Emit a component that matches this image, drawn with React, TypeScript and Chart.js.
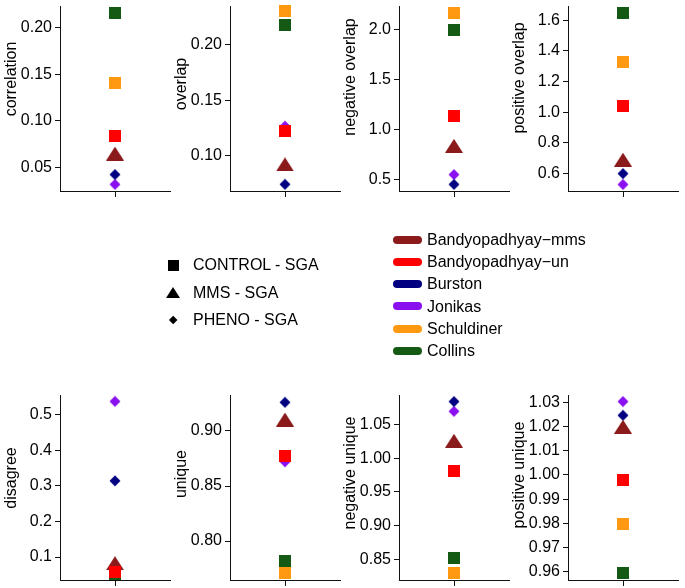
import React, { useEffect, useRef } from "react";
import { Chart, registerables } from "chart.js";

Chart.register(...registerables);

// ---------- data ----------
const sources = ["Bandyopadhyay−mms", "Bandyopadhyay−un", "Burston", "Jonikas", "Schuldiner", "Collins"];
const sourceColors = ["#8B1A1A", "#FF0000", "#000080", "#8A10F0", "#FF9912", "#145A14"];
const sourceShapes = ["triangle", "square", "diamond", "diamond", "square", "square"];
const screenTypes = ["CONTROL - SGA", "MMS - SGA", "PHENO - SGA"];
const screenShapes = ["square", "triangle", "diamond"];

const metricNames = [
  "correlation", "overlap", "negative overlap", "positive overlap",
  "disagree", "unique", "negative unique", "positive unique",
];

// values in the order of `sources`
const correlation = [0.0648, 0.0838, 0.0423, 0.0317, 0.1411, 0.2159];
const overlap = [0.092, 0.1219, 0.074, 0.1265, 0.2302, 0.2174];
const negativeOverlap = [0.836, 1.131, 0.451, 0.549, 2.164, 1.995];
const positiveOverlap = [0.691, 1.038, 0.6, 0.529, 1.325, 1.647];
const disagree = [0.083, 0.0586, 0.314, 0.537, 0.015, 0.0245];
const unique = [0.9104, 0.8777, 0.926, 0.872, 0.771, 0.7818];
const negativeUnique = [1.0258, 0.9806, 1.084, 1.0695, 0.83, 0.8525];
const positiveUnique = [1.0199, 0.9977, 1.0246, 1.0303, 0.9797, 0.9593];

const metricValues = [
  correlation, overlap, negativeOverlap, positiveOverlap,
  disagree, unique, negativeUnique, positiveUnique,
];

// axis ranges and tick labels
const yMin = [0.0246, 0.068, 0.385, 0.4866, 0.0357, 0.7646, 0.8194, 0.9566];
const yMax = [0.2233, 0.2349, 2.233, 1.692, 0.555, 0.9327, 1.0937, 1.033];
const yTicks = [
  [0.05, 0.1, 0.15, 0.2],
  [0.1, 0.15, 0.2],
  [0.5, 1.0, 1.5, 2.0],
  [0.6, 0.8, 1.0, 1.2, 1.4, 1.6],
  [0.1, 0.2, 0.3, 0.4, 0.5],
  [0.8, 0.85, 0.9],
  [0.85, 0.9, 0.95, 1.0, 1.05],
  [0.96, 0.97, 0.98, 0.99, 1.0, 1.01, 1.02, 1.03],
];
const tickDecimals = [2, 2, 1, 1, 1, 2, 2, 2];

// drawing order, top-most first
const drawOrder = [1, 4, 5, 0, 2, 3];

// ---------- layout ----------
const FONT = '"Liberation Sans", Arial, Helvetica, sans-serif';
const AXIS_COLOR = "#111";
const AXIS_X = [60, 230, 399, 568];
const ROW_TOP = [3, 392];
const PLOT_W = 114;
const PLOT_H = 188;
const LEFT_W = 60;
const PAD_TOP = 3;
const XAXIS_H = 10;
const TITLE_CY = [79, 84, 77, 78, 478, 474, 473, 475];

function makeMarker(shape: string, color: string): HTMLCanvasElement {
  const c = document.createElement("canvas");
  const ctx = c.getContext("2d")!;
  if (shape === "square") {
    c.width = 12; c.height = 12;
    ctx.fillStyle = color;
    ctx.fillRect(0, 0, 12, 12);
  } else if (shape === "triangle") {
    c.width = 18; c.height = 14;
    ctx.fillStyle = color;
    ctx.beginPath();
    ctx.moveTo(9, 0); ctx.lineTo(18, 14); ctx.lineTo(0, 14);
    ctx.closePath(); ctx.fill();
  } else {
    c.width = 12; c.height = 12;
    ctx.fillStyle = color;
    ctx.beginPath();
    ctx.moveTo(6, 0.5); ctx.lineTo(11.5, 6); ctx.lineTo(6, 11.5); ctx.lineTo(0.5, 6);
    ctx.closePath(); ctx.fill();
  }
  return c;
}

function Panel({ index }: { index: number }) {
  const ref = useRef<HTMLCanvasElement | null>(null);
  const col = index % 4;
  const row = Math.floor(index / 4);
  const left = AXIS_X[col] - LEFT_W;
  const top = ROW_TOP[row] - PAD_TOP;
  const width = LEFT_W + PLOT_W + 2;
  const height = PAD_TOP + PLOT_H + XAXIS_H;

  useEffect(() => {
    const values = metricValues[index];
    const datasets = drawOrder.map((s) => ({
      label: sources[s],
      data: [{ x: 0, y: values[s] }],
      pointStyle: makeMarker(sourceShapes[s], sourceColors[s]) as any,
      pointRadius: 6,
      backgroundColor: sourceColors[s],
      borderWidth: 0,
      clip: { left: 0, top: 6, right: 0, bottom: 0 } as any,
    }));
    const ticks = yTicks[index];
    const dec = tickDecimals[index];
    const chart = new Chart(ref.current!, {
      type: "scatter",
      data: { datasets },
      options: {
        animation: false,
        responsive: false,
        maintainAspectRatio: false,
        devicePixelRatio: 1,
        layout: { padding: { top: PAD_TOP, right: 2, left: 0, bottom: 0 } },
        plugins: { legend: { display: false }, tooltip: { enabled: false } },
        events: [],
        scales: {
          x: {
            type: "linear",
            min: -1,
            max: 1,
            afterBuildTicks: (scale: any) => { scale.ticks = [{ value: 0 }]; },
            afterFit: (scale: any) => {
              scale.height = XAXIS_H;
              scale.paddingLeft = 0; scale.paddingRight = 0;
            },
            ticks: { display: false },
            grid: { drawOnChartArea: false, drawTicks: true, tickLength: 6, color: AXIS_COLOR, lineWidth: 1 },
            border: { display: true, color: AXIS_COLOR, width: 1 },
          },
          y: {
            type: "linear",
            min: yMin[index],
            max: yMax[index],
            afterBuildTicks: (scale: any) => { scale.ticks = ticks.map((v) => ({ value: v })); },
            afterFit: (scale: any) => {
              scale.width = LEFT_W;
              scale.paddingTop = 0; scale.paddingBottom = 0;
            },
            ticks: {
              autoSkip: false,
              padding: 3,
              color: "#000",
              font: { family: FONT, size: 16 },
              callback: (v: any) => Number(v).toFixed(dec),
            },
            grid: { drawOnChartArea: false, drawTicks: true, tickLength: 5, color: AXIS_COLOR, lineWidth: 1 },
            border: { display: true, color: AXIS_COLOR, width: 1 },
          },
        },
      },
    });
    return () => chart.destroy();
  }, [index]);

  return (
    <canvas
      ref={ref}
      width={width}
      height={height}
      style={{ position: "absolute", left, top, width, height }}
    />
  );
}

function YTitle({ index }: { index: number }) {
  const col = index % 4;
  const cx = AXIS_X[col] - 49;
  const cy = TITLE_CY[index];
  return (
    <div
      style={{
        position: "absolute",
        left: cx,
        top: cy,
        transform: "translate(-50%, -50%) rotate(-90deg)",
        whiteSpace: "nowrap",
        fontFamily: FONT,
        fontSize: 16,
        lineHeight: "16px",
        color: "#000",
      }}
    >
      {metricNames[index]}
    </div>
  );
}

function ShapeIcon({ shape, cx, cy }: { shape: string; cx: number; cy: number }) {
  if (shape === "square") {
    return <div style={{ position: "absolute", left: cx - 5.5, top: cy - 5.5, width: 11, height: 11, background: "#000" }} />;
  }
  if (shape === "triangle") {
    return (
      <div
        style={{
          position: "absolute", left: cx - 7.5, top: cy - 5.5, width: 0, height: 0,
          borderLeft: "7.5px solid transparent", borderRight: "7.5px solid transparent",
          borderBottom: "11px solid #000",
        }}
      />
    );
  }
  return (
    <div
      style={{
        position: "absolute", left: cx - 3.2, top: cy - 3.2, width: 6.4, height: 6.4,
        background: "#000", transform: "rotate(45deg)",
      }}
    />
  );
}

export default function App() {
  const shapeRows = [265, 292.7, 320];
  const sourceRow0 = 239.7;
  const sourceStep = 22.26;
  return (
    <div style={{ position: "absolute", left: 0, top: 0, width: 685, height: 588, background: "#fff", overflow: "hidden" }}>
      {metricNames.map((_, i) => <Panel key={"p" + i} index={i} />)}
      {metricNames.map((_, i) => <YTitle key={"t" + i} index={i} />)}
      {screenTypes.map((t, i) => (
        <React.Fragment key={"s" + i}>
          <ShapeIcon shape={screenShapes[i]} cx={173} cy={shapeRows[i]} />
          <div
            style={{
              position: "absolute", left: 193, top: shapeRows[i] - 7.8, fontFamily: FONT,
              fontSize: 16, lineHeight: "16px", whiteSpace: "nowrap", color: "#000",
            }}
          >
            {t}
          </div>
        </React.Fragment>
      ))}
      {sources.map((s, i) => {
        const cy = sourceRow0 + i * sourceStep;
        return (
          <React.Fragment key={"l" + i}>
            <div
              style={{
                position: "absolute", left: 393, top: cy - 4, width: 29, height: 8,
                borderRadius: 4, background: sourceColors[i],
              }}
            />
            <div
              style={{
                position: "absolute", left: 427, top: cy - 7.8, fontFamily: FONT,
                fontSize: 16, lineHeight: "16px", whiteSpace: "nowrap", color: "#000",
              }}
            >
              {s}
            </div>
          </React.Fragment>
        );
      })}
    </div>
  );
}
